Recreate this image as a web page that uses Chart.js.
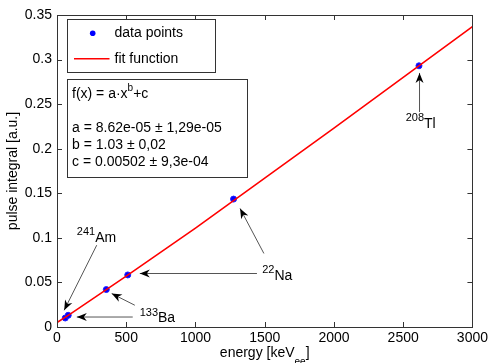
<!DOCTYPE html>
<html>
<head>
<meta charset="utf-8">
<script src="https://cdn.jsdelivr.net/npm/chart.js"></script>
<style>
  body { margin: 0; background: #fff; }
  #wrap { width: 491px; height: 363px; }
</style>
</head>
<body>
<div id="wrap"><canvas id="calib" width="491" height="363"></canvas></div>
<script>
// measured calibration points (energy in keV, pulse integral in a.u.)
var energies = [59.5, 81, 356, 511, 1275, 2614];
var pulses = [0.0101, 0.0131, 0.042, 0.0584, 0.1435, 0.293];

// fit curve
var fitEnergies = [0, 100, 500, 1000, 1500, 2000, 2500, 3000];
var fitPulses = [0.005, 0.015, 0.057, 0.111, 0.167, 0.223, 0.280, 0.337];

var xTicks = [0, 500, 1000, 1500, 2000, 2500, 3000];
var yTicks = [0, 0.05, 0.1, 0.15, 0.2, 0.25, 0.3, 0.35];

var fitText = ['f(x) = a\u00b7x', '', 'a = 8.62e-05 \u00b1 1,29e-05', 'b = 1.03 \u00b1 0,02', 'c = 0.00502 \u00b1 9,3e-04'];

// isotope labels: mass number, symbol, label anchor (data units), arrows [x0,y0,x1,y1]
var isotopes = [
  { sup: '241', name: 'Am', at: [143, 0.100], arrows: [[287, 0.0918, 52, 0.0188]] },
  { sup: '133', name: 'Ba', at: [597, 0.0101], arrows: [[562, 0.0244, 395, 0.0375], [547, 0.0112, 143, 0.0112]] },
  { sup: '22', name: 'Na', at: [1482, 0.0573], arrows: [[1444, 0.060, 598, 0.060], [1494, 0.0825, 1322, 0.133]] },
  { sup: '208', name: 'Tl', at: [2518, 0.2278], arrows: [[2618, 0.2412, 2618, 0.285]] }
];

var FONT = '"Liberation Sans", Arial, sans-serif';

function arrow(ctx, x0, y0, x1, y1) {
  ctx.save();
  ctx.strokeStyle = '#555';
  ctx.lineWidth = 1;
  ctx.beginPath();
  ctx.moveTo(x0, y0);
  ctx.lineTo(x1, y1);
  ctx.stroke();
  var a = Math.atan2(y1 - y0, x1 - x0);
  ctx.translate(x1, y1);
  ctx.rotate(a);
  ctx.fillStyle = '#000';
  ctx.beginPath();
  ctx.moveTo(0, 0);
  ctx.lineTo(-10, -4);
  ctx.lineTo(-7, 0);
  ctx.lineTo(-10, 4);
  ctx.closePath();
  ctx.fill();
  ctx.restore();
}

var decor = {
  id: 'decor',
  afterDraw: function (chart) {
    var ctx = chart.ctx, ca = chart.chartArea;
    var xs = chart.scales.x, ys = chart.scales.y;
    ctx.save();

    // axes box with inward ticks
    ctx.strokeStyle = '#333';
    ctx.lineWidth = 1;
    ctx.strokeRect(Math.round(ca.left) + 0.5, Math.round(ca.top) + 0.5,
      Math.round(ca.right - ca.left), Math.round(ca.bottom - ca.top));
    ctx.beginPath();
    xTicks.forEach(function (v) {
      var p = Math.round(xs.getPixelForValue(v)) + 0.5;
      ctx.moveTo(p, ca.bottom); ctx.lineTo(p, ca.bottom - 5);
      ctx.moveTo(p, ca.top); ctx.lineTo(p, ca.top + 5);
    });
    yTicks.forEach(function (v) {
      var p = Math.round(ys.getPixelForValue(v)) + 0.5;
      ctx.moveTo(ca.left, p); ctx.lineTo(ca.left + 5, p);
      ctx.moveTo(ca.right, p); ctx.lineTo(ca.right - 5, p);
    });
    ctx.stroke();

    // legend box
    ctx.fillStyle = '#fff';
    ctx.fillRect(67.5, 19.5, 148, 53);
    ctx.strokeRect(67.5, 19.5, 148, 53);
    ctx.fillStyle = '#0000ff';
    ctx.beginPath(); ctx.arc(92.7, 33.3, 2.8, 0, Math.PI * 2); ctx.fill();
    ctx.strokeStyle = '#ff0000';
    ctx.lineWidth = 1.5;
    ctx.beginPath(); ctx.moveTo(74, 58.7); ctx.lineTo(109.5, 58.7); ctx.stroke();
    ctx.fillStyle = '#000';
    ctx.font = '14px ' + FONT;
    ctx.textBaseline = 'middle';
    ctx.textAlign = 'left';
    ctx.fillText('data points', 114.5, 33.5);
    ctx.fillText('fit function', 114.5, 59);

    // fit parameter box
    ctx.strokeStyle = '#333';
    ctx.lineWidth = 1;
    ctx.fillStyle = '#fff';
    ctx.fillRect(67.5, 79.5, 180, 98);
    ctx.strokeRect(67.5, 79.5, 180, 98);
    ctx.fillStyle = '#000';
    var lineY = [94, 111, 128, 145, 162];
    fitText.forEach(function (t, i) {
      ctx.font = '14px ' + FONT;
      ctx.fillText(t, 72, lineY[i]);
      if (i === 0) {
        var w = ctx.measureText(t).width;
        ctx.font = '10px ' + FONT;
        ctx.fillText('b', 72 + w, lineY[i] - 6);
        var w2 = ctx.measureText('b').width;
        ctx.font = '14px ' + FONT;
        ctx.fillText('+c', 72 + w + w2, lineY[i]);
      }
    });

    // isotope annotations
    isotopes.forEach(function (iso) {
      iso.arrows.forEach(function (a) {
        arrow(ctx, xs.getPixelForValue(a[0]), ys.getPixelForValue(a[1]),
          xs.getPixelForValue(a[2]), ys.getPixelForValue(a[3]));
      });
      var px = xs.getPixelForValue(iso.at[0]), py = ys.getPixelForValue(iso.at[1]);
      ctx.fillStyle = '#000';
      ctx.font = '11px ' + FONT;
      ctx.fillText(iso.sup, px, py - 5.5);
      var sw = ctx.measureText(iso.sup).width;
      ctx.font = '14px ' + FONT;
      ctx.fillText(iso.name, px + sw, py);
    });

    // axis titles
    ctx.font = '14px ' + FONT;
    var main = 'energy [keV', sub = 'ee', end = ']';
    var w1 = ctx.measureText(main).width, w3 = ctx.measureText(end).width;
    ctx.font = '10px ' + FONT;
    var w2 = ctx.measureText(sub).width;
    var cx = (ca.left + ca.right) / 2;
    var sx = cx - (w1 + w2 + w3) / 2;
    ctx.font = '14px ' + FONT;
    ctx.fillText(main, sx, 353.5);
    ctx.font = '10px ' + FONT;
    ctx.fillText(sub, sx + w1, 362);
    ctx.font = '14px ' + FONT;
    ctx.fillText(end, sx + w1 + w2, 353.5);

    ctx.translate(13, (ca.top + ca.bottom) / 2);
    ctx.rotate(-Math.PI / 2);
    ctx.textAlign = 'center';
    ctx.fillText('pulse integral [a.u.]', 0, 0);
    ctx.restore();
  }
};

var fitPoints = fitEnergies.map(function (e, i) { return { x: e, y: fitPulses[i] }; });
var dataPoints = energies.map(function (e, i) { return { x: e, y: pulses[i] }; });

new Chart(document.getElementById('calib').getContext('2d'), {
  type: 'scatter',
  data: {
    datasets: [{
      label: 'fit function',
      data: fitPoints,
      showLine: true,
      borderColor: '#ff0000',
      borderWidth: 1.6,
      pointRadius: 0,
      tension: 0,
      fill: false
    }, {
      label: 'data points',
      data: dataPoints,
      backgroundColor: '#0000ff',
      borderColor: '#2020ff',
      borderWidth: 1,
      pointRadius: 3
    }]
  },
  options: {
    responsive: false,
    devicePixelRatio: 1,
    animation: false,
    layout: { padding: { top: 15, right: 16, left: 0, bottom: 0 } },
    plugins: { legend: { display: false }, tooltip: { enabled: false } },
    scales: {
      x: {
        type: 'linear', min: 0, max: 3000,
        grid: { display: false, drawTicks: false },
        border: { display: false },
        afterBuildTicks: function (s) { s.ticks = xTicks.map(function (v) { return { value: v }; }); },
        ticks: {
          color: '#000', font: { size: 14, family: FONT }, padding: 3, maxRotation: 0,
          callback: function (v) { return String(v); }
        },
        afterFit: function (s) { s.height = 36; }
      },
      y: {
        type: 'linear', min: 0, max: 0.35,
        grid: { display: false, drawTicks: false },
        border: { display: false },
        afterBuildTicks: function (s) { s.ticks = yTicks.map(function (v) { return { value: v }; }); },
        ticks: {
          color: '#000', font: { size: 14, family: FONT }, padding: 5,
          callback: function (v) { return String(+v.toFixed(2)); }
        },
        afterFit: function (s) { s.width = 57; }
      }
    }
  },
  plugins: [decor]
});
</script>
</body>
</html>
